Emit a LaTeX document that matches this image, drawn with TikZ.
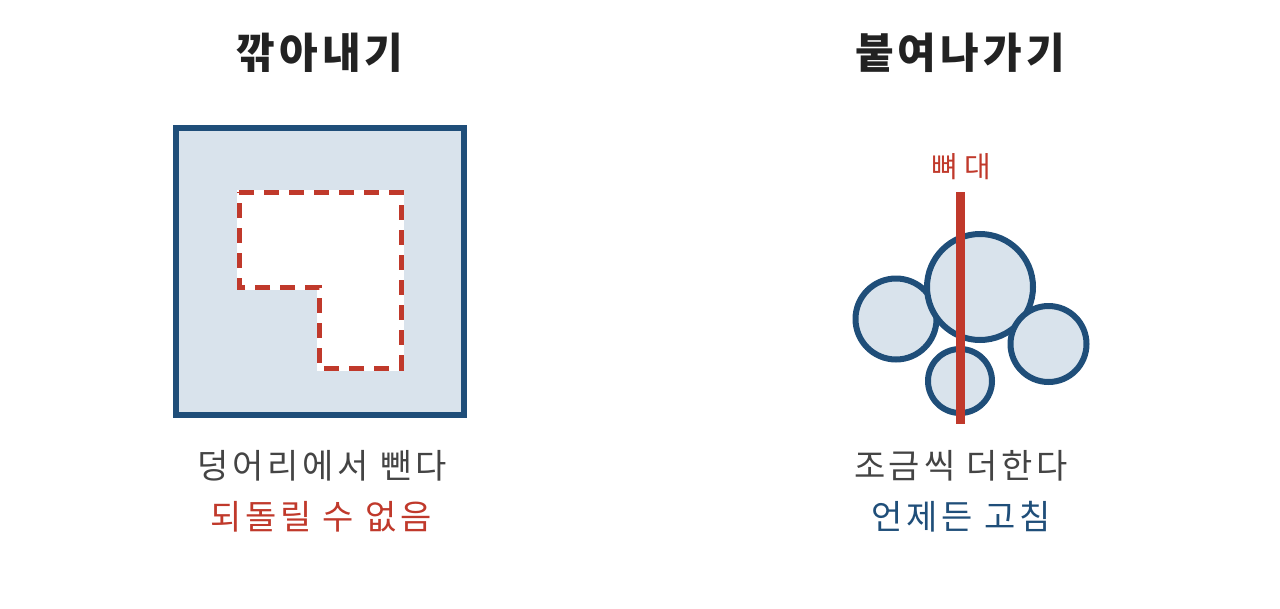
\documentclass[tikz,border=0pt]{standalone}
\usepackage{fontspec}
\newfontfamily\krtitle[LetterSpace=10]{Noto Sans CJK KR}
\newfontfamily\krsub[LetterSpace=11]{Noto Sans CJK KR}
\newfontfamily\krbone[LetterSpace=22]{Noto Sans CJK KR}
\definecolor{navy}{HTML}{1F4E79}
\definecolor{pale}{HTML}{D9E3EC}
\definecolor{brick}{HTML}{C0392B}
\definecolor{ink}{HTML}{444444}
\definecolor{dark}{HTML}{222222}
\tikzset{
  titletext/.style={font=\krtitle\bfseries\fontsize{42}{48}\selectfont, text=dark, inner sep=0pt},
  subtext/.style={font=\krsub\fontsize{34}{38}\selectfont, inner sep=0pt},
  blob/.style={draw=navy, fill=pale, line width=6pt},
}
\begin{document}
\begin{tikzpicture}[x=1pt,y=-1pt]
\useasboundingbox (0,0) rectangle (1280,608);
% left panel
\node[titletext] (t1) at (320,53) {깎아내기};
\draw[navy, fill=pale, line width=6pt] (176,128) rectangle (464,415);
\draw[white, fill=white, line width=5pt] (239,192) -- (401,192) -- (401,368) -- (319,368) -- (319,287) -- (239,287) -- cycle;
\draw[brick, line width=5pt, dash pattern=on 15pt off 10pt] (239,192) -- (401,192) -- (401,368) -- (319,368) -- (319,287) -- (239,287) -- cycle;
\node[subtext, text=ink] (s1) at (322,466) {덩어리에서 뺀다};
\node[subtext, text=brick] (r1) at (321,517) {되돌릴 수 없음};
% right panel
\node[titletext] (t2) at (960,53) {붙여나가기};
\node[font=\krbone\fontsize{29}{34}\selectfont, text=brick, inner sep=0pt] (bone) at (961,167) {뼈대};
\draw[blob] (896,319) circle[radius=40.5pt];
\draw[blob] (980,287) circle[radius=53pt];
\draw[blob] (1048.5,344) circle[radius=38pt];
\draw[blob] (960,381) circle[radius=32pt];
\draw[brick, line width=9pt] (960,192) -- (960,424);
\node[subtext, text=ink] (s2) at (961,466) {조금씩 더한다};
\node[subtext, text=navy] (r2) at (961,517) {언제든 고침};
\end{tikzpicture}
\end{document}
